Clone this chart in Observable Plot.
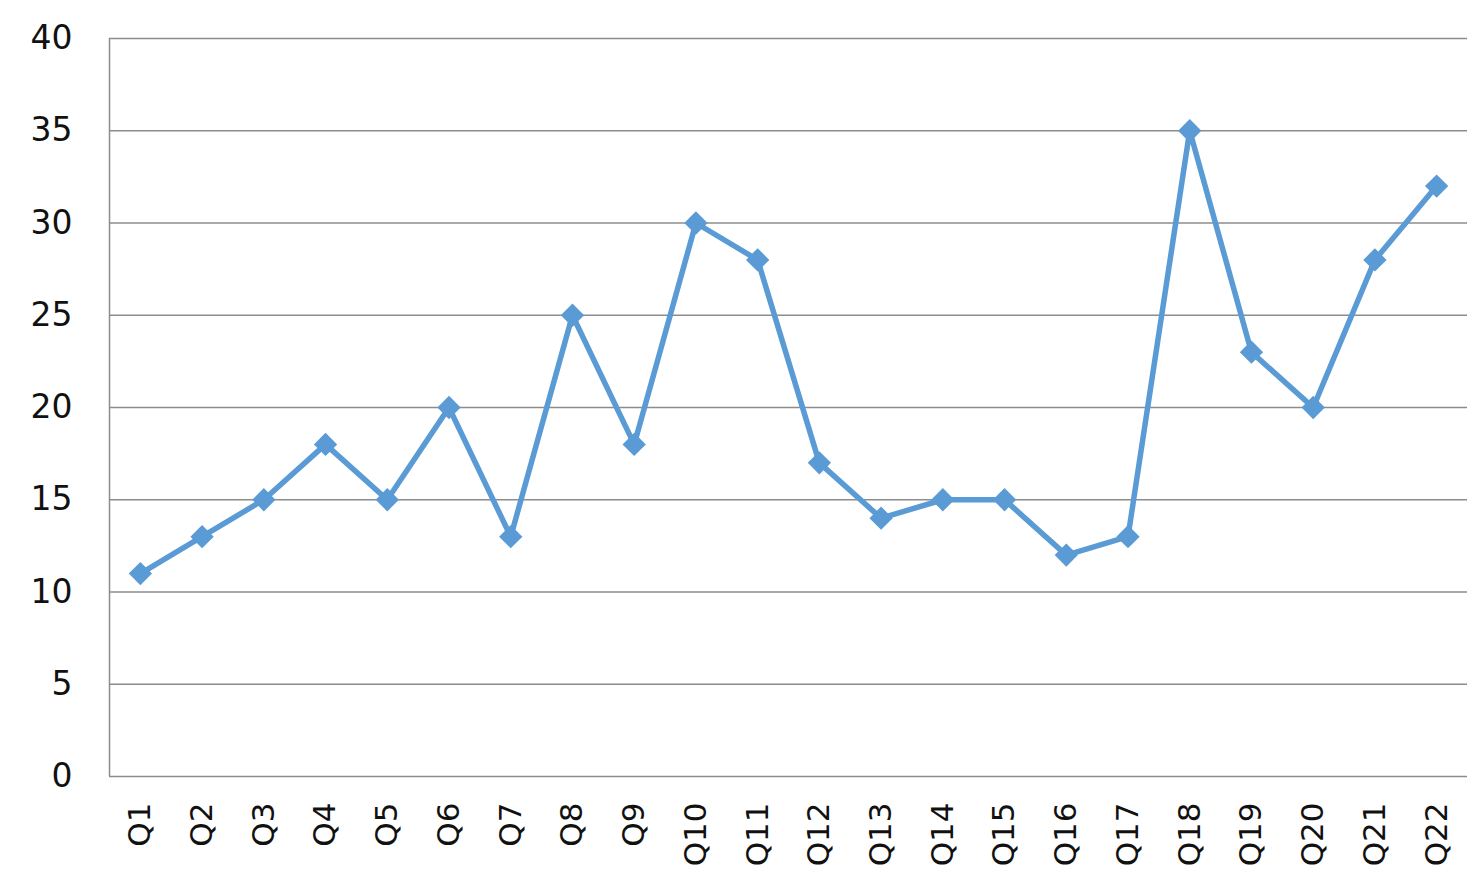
<!DOCTYPE html>
<html><head><meta charset="utf-8">
<script src="https://cdn.jsdelivr.net/npm/d3@7"></script>
<script src="https://cdn.jsdelivr.net/npm/@observablehq/plot@0.6"></script>
<style>body{margin:0;background:#fff}</style>
</head><body><div id="chart"></div>
<script>
const categories = ["Q1","Q2","Q3","Q4","Q5","Q6","Q7","Q8","Q9","Q10","Q11","Q12","Q13","Q14","Q15","Q16","Q17","Q18","Q19","Q20","Q21","Q22"];
const values = [11,13,15,18,15,20,13,25,18,30,28,17,14,15,15,12,13,35,23,20,28,32];
const yTicks = [0,5,10,15,20,25,30,35,40];
const data = categories.map((c,i)=>({q:c, v:values[i]}));
const chart = Plot.plot({
  width:1484, height:886,
  marginLeft:109, marginRight:17, marginTop:38, marginBottom:110,
  style:{fontFamily:"DejaVu Sans, Liberation Sans, sans-serif", background:"#fff", color:"#111"},
  x:{type:"point", domain:categories, padding:0.5, round:false, label:null},
  y:{domain:[0,40], ticks:yTicks, label:null},
  marks:[
    Plot.ruleY(yTicks, {stroke:"#8c8c8c", strokeWidth:1.5}),
    Plot.ruleX([0], {x:()=>categories[0], dx:-30.85, y1:0, y2:40, stroke:"#8c8c8c", strokeWidth:1.5}),
    Plot.axisY({ticks:yTicks, tickSize:0, tickPadding:37, fontSize:33, label:null}),
    Plot.axisX({tickSize:0, tickPadding:26, tickRotate:-90, fontSize:31, label:null}),
    Plot.line(data, {x:"q", y:"v", stroke:"#5b9bd5", strokeWidth:5.5}),
    Plot.dot(data, {x:"q", y:"v", symbol:"diamond2", r:10.5, fill:"#5b9bd5", stroke:"none"})
  ]
});
document.getElementById("chart").appendChild(chart);
</script></body></html>
